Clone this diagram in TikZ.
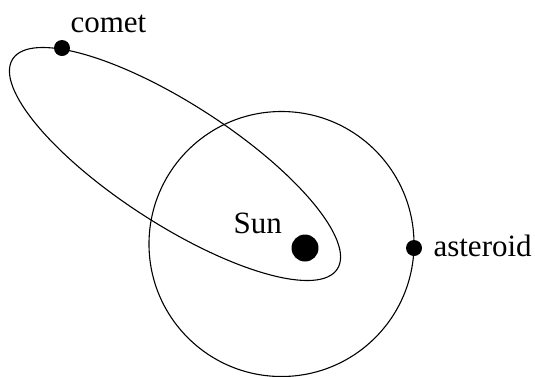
\documentclass[tikz,border=0pt]{standalone}
\usepackage{fontspec}
\setmainfont{Liberation Serif}

\begin{document}
\begin{tikzpicture}[x=1pt, y=1pt, line width=1.1pt,
  bodydot/.style={circle, fill=black, inner sep=0pt, minimum size=16pt},
  bodylabel/.style={font=\fontsize{31}{31}\selectfont, inner sep=0pt, anchor=base west}]

\useasboundingbox (0,0) rectangle (535,-376);

% Define the orbits
\draw (281.5,-244) circle (132.5);
\draw[rotate around={-32.9:(175,-164)}] (175,-164) ellipse (193.3 and 60.1);

% Define the bodies with coordinates
\node[bodydot, minimum size=27pt] (Sun) at (305,-248) {};
\node[bodydot] (CO) at (62,-48) {};
\node[bodydot] (AS) at (414,-248) {};

% Labels
\node[bodylabel] (SunL) at (233,-233) {Sun};
\node[bodylabel] (COL) at (70,-32) {comet};
\node[bodylabel] (ASL) at (433,-256) {asteroid};

\end{tikzpicture}
\end{document}
